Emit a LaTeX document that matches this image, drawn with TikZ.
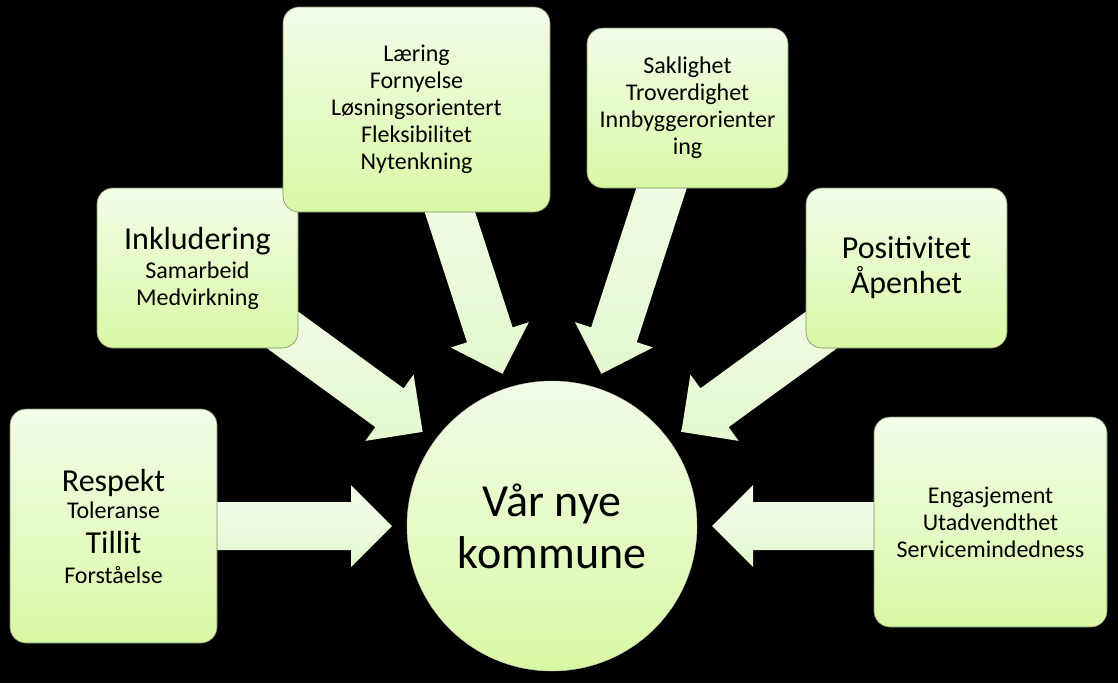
\documentclass[tikz,border=0pt]{standalone}
\usepackage{fontspec}
\setmainfont{Carlito}
\usetikzlibrary{calc}
\pgfdeclarelayer{back}
\pgfdeclarelayer{arrows}
\pgfsetlayers{back,arrows,main}
\definecolor{boxtop}{HTML}{F2FCE8}
\definecolor{boxbot}{HTML}{D9F8A5}
\definecolor{arrtop}{HTML}{F3FDEC}
\definecolor{arrbot}{HTML}{E4F7CF}
\definecolor{edgecol}{HTML}{7D8C6E}
\newcommand\lgtxt{\fontsize{32}{35}\selectfont}
% block arrow from #1 (start) to #2 (tip)
\newcommand\blockarrow[2]{%
  \coordinate (hb) at ($(#2)!41pt!(#1)$);
  \path[arrowfill]
    ($(#1)!24pt!90:(#2)$) -- ($(hb)!24pt!90:(#2)$) -- ($(hb)!41pt!90:(#2)$)
    -- (#2)
    -- ($(hb)!41pt!-90:(#2)$) -- ($(hb)!24pt!-90:(#2)$) -- ($(#1)!24pt!-90:(#2)$)
    -- cycle;
}
\tikzset{
  box/.style={rectangle, rounded corners=16pt, top color=boxtop, bottom color=boxbot,
    draw=edgecol, line width=0.6pt, align=center, inner sep=2pt, text=black,
    font=\fontsize{24}{27}\selectfont},
  hub/.style={circle, top color=boxtop, bottom color=boxbot, draw=edgecol!50,
    line width=0.4pt, minimum size=290pt, inner sep=0pt, align=center,
    font=\fontsize{46}{52}\selectfont},
  arrowfill/.style={top color=arrtop, bottom color=arrbot, draw=none}
}
\begin{document}
\begin{tikzpicture}[x=1pt,y=-1pt]
\begin{pgfonlayer}{back}
  \fill[black] (0,0) rectangle (1118,683);
\end{pgfonlayer}
\useasboundingbox (0,0) rectangle (1118,683);

\node[hub] (c) at (552,526) {Vår nye\\kommune};

\node[box, minimum width=207pt, minimum height=234pt] (resp) at (113.5,526)
  {{\lgtxt Respekt}\\Toleranse\\[8pt]{\lgtxt Tillit}\\[3pt]Forståelse};
\node[box, minimum width=201pt, minimum height=160pt] (inkl) at (197.5,268)
  {{\lgtxt Inkludering}\\[2pt]Samarbeid\\Medvirkning};
\node[box, minimum width=267pt, minimum height=205pt] (laer) at (416.5,109.5)
  {Læring\\Fornyelse\\Løsningsorientert\\Fleksibilitet\\Nytenkning};
\node[box, minimum width=201pt, minimum height=160pt] (sakl) at (687.5,108)
  {Saklighet\\Troverdighet\\Innbyggerorienter\\ing};
\node[box, minimum width=201pt, minimum height=160pt, font=\lgtxt] (posi) at (906.5,268)
  {Positivitet\\Åpenhet};
\node[box, minimum width=233pt, minimum height=210pt] (enga) at (990.5,522)
  {Engasjement\\Utadvendthet\\Servicemindedness};

\coordinate (s1) at (resp.center |- c);
\coordinate (t1) at ($(c)!160pt!(s1)$);
\coordinate (t2) at ($(c)!160pt!(inkl)$);
\coordinate (t3) at ($(c)!160pt!(laer)$);
\coordinate (t4) at ($(c)!160pt!(sakl)$);
\coordinate (t5) at ($(c)!160pt!(posi)$);
\coordinate (s6) at (enga.center |- c);
\coordinate (t6) at ($(c)!160pt!(s6)$);

\begin{pgfonlayer}{arrows}
  \blockarrow{s1}{t1}
  \blockarrow{inkl}{t2}
  \blockarrow{laer}{t3}
  \blockarrow{sakl}{t4}
  \blockarrow{posi}{t5}
  \blockarrow{s6}{t6}
\end{pgfonlayer}
\end{tikzpicture}
\end{document}
